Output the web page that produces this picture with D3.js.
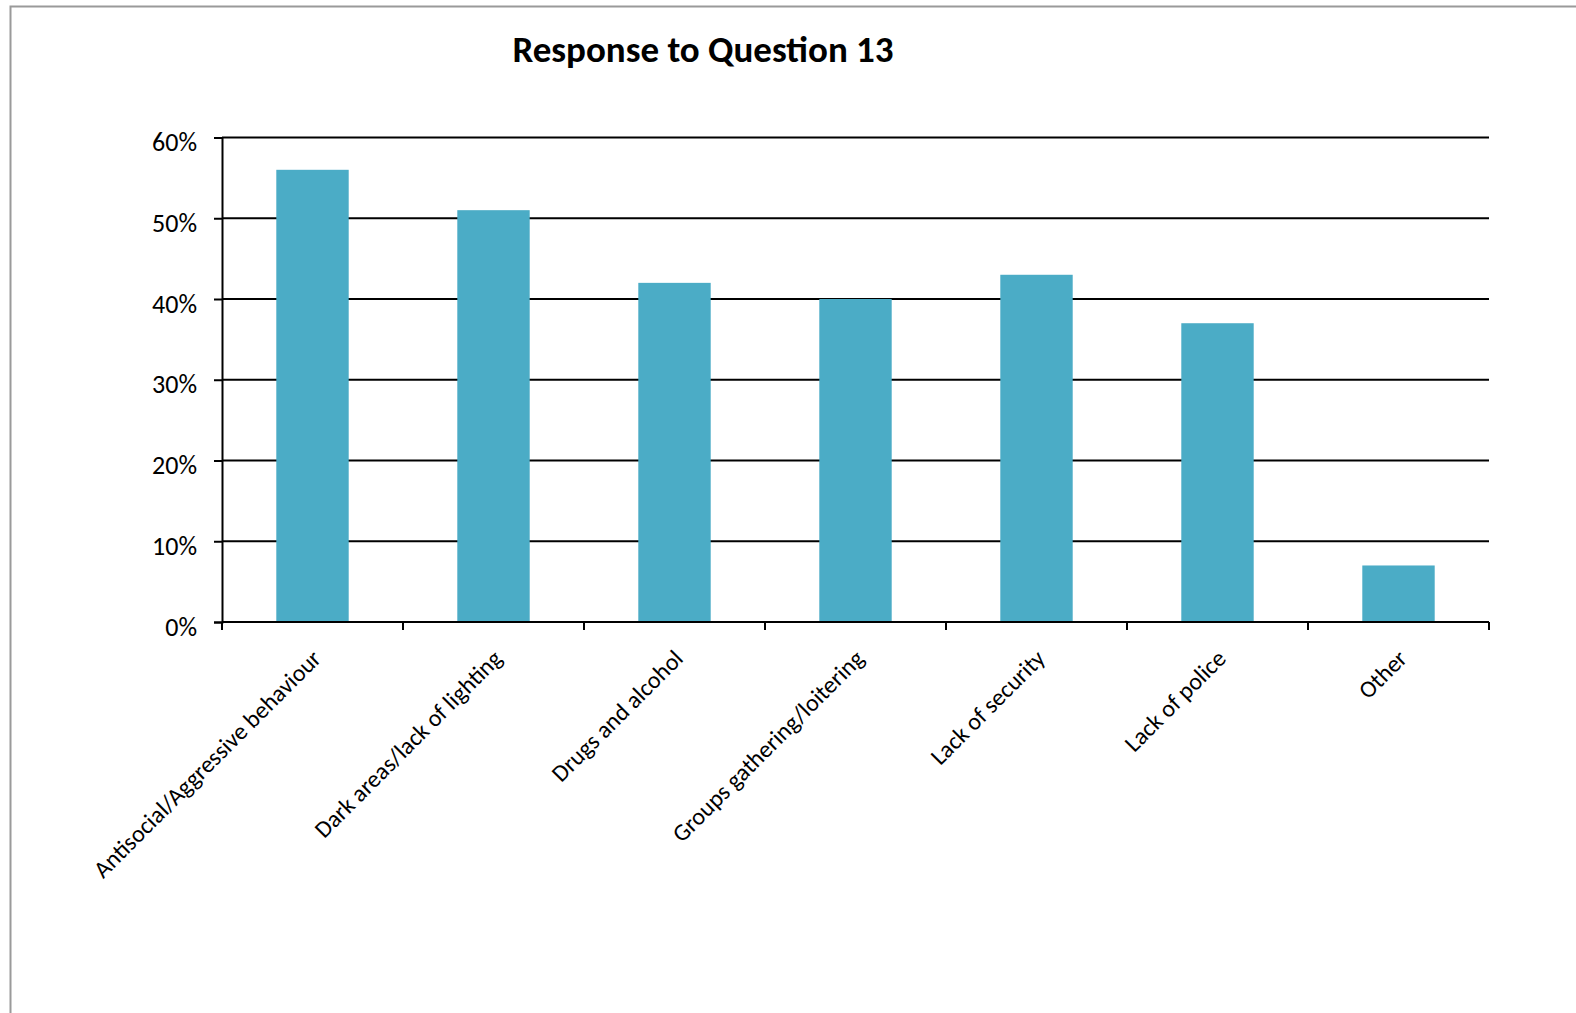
<!DOCTYPE html>
<html>
<head>
<meta charset="utf-8">
<script src="https://cdn.jsdelivr.net/npm/d3@7"></script>
<style>
  body { margin: 0; background: #fff; }
  svg { display: block; font-family: Carlito, Lato, "Open Sans", sans-serif; }
</style>
</head>
<body>
<div id="chart"></div>
<script>
// Response to Question 13 - simple bar chart
const categories = ["Antisocial/Aggressive behaviour", "Dark areas/lack of lighting", "Drugs and alcohol",
  "Groups gathering/loitering", "Lack of security", "Lack of police", "Other"];
const values = [0.56, 0.51, 0.42, 0.40, 0.43, 0.37, 0.07];
const yTicks = [0, 0.1, 0.2, 0.3, 0.4, 0.5, 0.6];

const W = 1576, H = 1013;
const margin = {top: 137.5, left: 222, right: 87, bottom: 391};

const svg = d3.select("#chart").append("svg")
  .attr("width", W).attr("height", H);

// outer frame (only top and left edges visible)
svg.append("rect")
  .attr("x", 10.5).attr("y", 6.5)
  .attr("width", W + 20).attr("height", H + 20)
  .attr("fill", "none").attr("stroke", "#9a9a9a").attr("stroke-width", 2);

svg.append("text")
  .attr("x", 703).attr("y", 62)
  .attr("text-anchor", "middle")
  .attr("font-weight", "bold").attr("font-size", 37)
  .text("Response to Question 13");

const x = d3.scaleBand().domain(categories)
  .range([margin.left, W - margin.right]).paddingInner(0.6).paddingOuter(0.3);
const xOuter = d3.scaleBand().domain(categories)
  .range([margin.left, W - margin.right]);
const y = d3.scaleLinear().domain([0, 0.6]).range([H - margin.bottom, margin.top]);

// gridlines
svg.append("g").selectAll("line")
  .data(yTicks.slice(1))
  .join("line")
  .attr("x1", margin.left).attr("x2", W - margin.right)
  .attr("y1", d => y(d)).attr("y2", d => y(d))
  .attr("stroke", "#000").attr("stroke-width", 2);

// bars
svg.append("g").selectAll("rect")
  .data(values)
  .join("rect")
  .attr("x", (d, i) => x(categories[i]))
  .attr("width", x.bandwidth())
  .attr("y", d => y(d))
  .attr("height", d => y(0) - y(d))
  .attr("fill", "#4bacc6");

// y axis
const yAxis = svg.append("g")
  .attr("transform", `translate(${margin.left},0)`)
  .call(d3.axisLeft(y).tickValues(yTicks).tickFormat(d3.format(".0%")).tickSize(8).tickPadding(17));
yAxis.attr("font-family", null).attr("font-size", null);
yAxis.selectAll("path, line").attr("stroke", "#000").attr("stroke-width", 2);
yAxis.selectAll("text").attr("font-size", 26).attr("fill", "#000").attr("dy", "0.5em");

// x axis with ticks at category boundaries
const xg = svg.append("g").attr("transform", `translate(0,${y(0)})`);
xg.append("line")
  .attr("x1", margin.left).attr("x2", W - margin.right)
  .attr("stroke", "#000").attr("stroke-width", 2);
const bounds = categories.map(c => xOuter(c)).concat([xOuter.range()[1]]);
xg.selectAll("line.tick")
  .data(bounds)
  .join("line").attr("class", "tick")
  .attr("x1", d => d).attr("x2", d => d)
  .attr("y1", 0).attr("y2", 8)
  .attr("stroke", "#000").attr("stroke-width", 2);
xg.selectAll("text")
  .data(categories)
  .join("text")
  .attr("transform", d => `translate(${xOuter(d) + xOuter.bandwidth() / 2 + 10},${38}) rotate(-45)`)
  .attr("text-anchor", "end")
  .attr("font-size", 24)
  .text(d => d);
</script>
</body>
</html>
